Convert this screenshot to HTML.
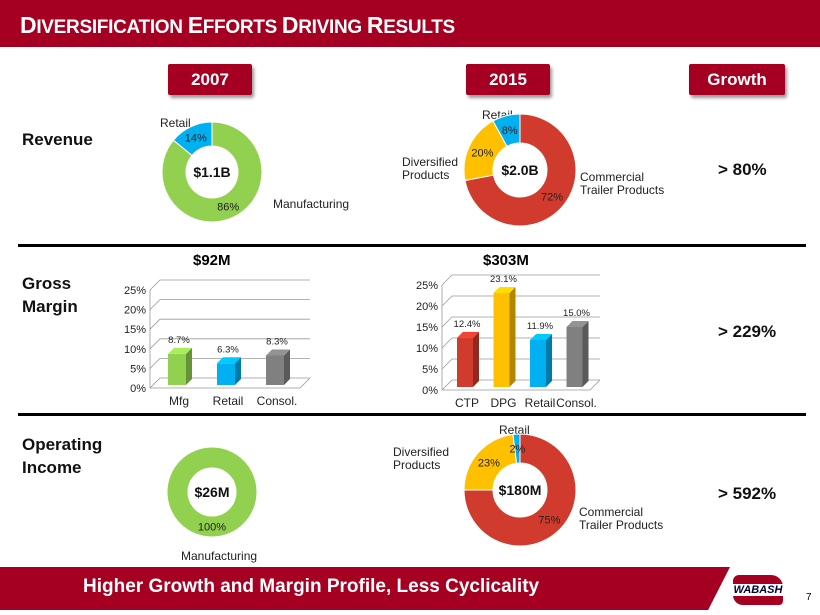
<!DOCTYPE html>
<html><head><meta charset="utf-8"><style>
body{margin:0;width:820px;height:615px;overflow:hidden;background:#fff;font-family:"Liberation Sans",sans-serif;position:relative}
.abs{position:absolute}
.btn{position:absolute;top:64px;height:31px;background:#a50021;color:#fff;font-weight:bold;font-size:17px;text-align:center;line-height:31px;box-shadow:2px 3px 3px #999;border-radius:2px}
.lbl{position:absolute;font-size:12px;color:#222;line-height:13px}
.row{position:absolute;left:22px;font-weight:bold;font-size:17px;line-height:23px;color:#111}
.gr{position:absolute;left:718px;font-weight:bold;font-size:17px;color:#111}
</style></head><body>
<div class="abs" style="left:0;top:0;width:820px;height:47px;background:#a50021"></div>
<div class="abs" style="left:20px;top:12px;color:#fff;font-weight:bold;font-size:19px;letter-spacing:-0.3px"><span style="font-size:23px">D</span>IVERSIFICATION <span style="font-size:23px">E</span>FFORTS <span style="font-size:23px">D</span>RIVING <span style="font-size:23px">R</span>ESULTS</div>
<div class="btn" style="left:168px;width:84px">2007</div>
<div class="btn" style="left:466px;width:84px">2015</div>
<div class="btn" style="left:689px;width:96px">Growth</div>
<div class="row" style="top:128px">Revenue</div>
<div class="row" style="top:272px">Gross<br>Margin</div>
<div class="row" style="top:433px">Operating<br>Income</div>
<div class="gr" style="top:160px">&gt; 80%</div>
<div class="gr" style="top:322px">&gt; 229%</div>
<div class="gr" style="top:484px">&gt; 592%</div>
<div class="abs" style="left:18px;top:244px;width:788px;height:3px;background:#000"></div>
<div class="abs" style="left:18px;top:413px;width:788px;height:3px;background:#000"></div>
<div class="abs" style="left:193px;top:252px;font-weight:bold;font-size:15px">$92M</div>
<div class="abs" style="left:483px;top:252px;font-weight:bold;font-size:15px">$303M</div>
<div class="lbl" style="left:160px;top:117px">Retail</div>
<div class="lbl" style="left:273px;top:198px">Manufacturing</div>
<div class="lbl" style="left:482px;top:109px">Retail</div>
<div class="lbl" style="left:402px;top:156px">Diversified<br>Products</div>
<div class="lbl" style="left:580px;top:171px">Commercial<br>Trailer Products</div>
<div class="lbl" style="left:181px;top:550px">Manufacturing</div>
<div class="lbl" style="left:499px;top:424px">Retail</div>
<div class="lbl" style="left:393px;top:446px">Diversified<br>Products</div>
<div class="lbl" style="left:579px;top:506px">Commercial<br>Trailer Products</div>
<svg class="abs" style="left:0;top:0" width="820" height="615" id="chart"></svg>
<div class="abs" style="left:0;top:567px;width:730px;height:43px;background:#a50021;clip-path:polygon(0 0,100% 0,97% 100%,0 100%)"></div>
<div class="abs" style="left:83px;top:576px;color:#fff;font-weight:bold;font-size:19px">Higher Growth and Margin Profile, Less Cyclicality</div>
<div class="abs" style="left:733px;top:575px;width:50px;height:30px;background:#a50021;border-radius:6px 12px 4px 10px"><div style="margin-top:9px;background:#fff;color:#003;font-weight:bold;font-style:italic;font-size:11px;text-align:center">WABASH</div></div>
<div class="abs" style="left:806px;top:592px;font-size:10px">7</div>
<script>
const NS='http://www.w3.org/2000/svg';
const svg=document.getElementById('chart');
function mk(t,a){const e=document.createElementNS(NS,t);for(const k in a)e.setAttribute(k,a[k]);svg.appendChild(e);return e;}
const rev07=[86,14], rev07Colors=['#92d050','#00b0f0'];
const rev15=[72,20,8], rev15Colors=['#d13b2e','#ffc000','#00b0f0'];
const oi07=[100], oi07Colors=['#92d050'];
const oi15=[75,23,2], oi15Colors=['#d13b2e','#ffc000','#00b0f0'];
const gm07Cats=['Mfg','Retail','Consol.'], gm07Vals=[8.7,6.3,8.3], gm07Colors=['#92d050','#00b0f0','#808080'];
const gm15Cats=['CTP','DPG','Retail','Consol.'], gm15Vals=[12.4,23.1,11.9,15.0], gm15Colors=['#d13b2e','#ffc000','#00b0f0','#808080'];
const yTicks=[0,5,10,15,20,25];
function donut(name,cx,cy,R,r,vals,cols,center){
  const tot=vals.reduce((a,b)=>a+b,0);
  let ang=-Math.PI/2;
  vals.forEach((v,i)=>{
    const sw=v/tot*2*Math.PI;const e=ang+sw;
    let p;
    if(sw>=2*Math.PI-1e-6){p=`M${cx-R},${cy}a${R},${R} 0 1,0 ${2*R},0a${R},${R} 0 1,0 ${-2*R},0M${cx-r},${cy}a${r},${r} 0 1,1 ${2*r},0a${r},${r} 0 1,1 ${-2*r},0`;}
    else{const lg=sw>Math.PI?1:0;const c=Math.cos,s=Math.sin;
    p=`M${cx+R*c(ang)},${cy+R*s(ang)}A${R},${R} 0 ${lg},1 ${cx+R*c(e)},${cy+R*s(e)}L${cx+r*c(e)},${cy+r*s(e)}A${r},${r} 0 ${lg},0 ${cx+r*c(ang)},${cy+r*s(ang)}Z`;}
    const el=mk('path',{d:p,fill:cols[i],stroke:'#fff','stroke-width':1,'fill-rule':'evenodd'});
    
    
    const m=(ang+e)/2, lr=(R+r)/2;
    const t=mk('text',{x:cx+lr*Math.cos(m),y:cy+lr*Math.sin(m)+4,'text-anchor':'middle','font-size':11,fill:'#222'});
    t.textContent=v+'%';
    
    
    ang=e;
  });
  const ct=mk('text',{x:cx,y:cy+5,'text-anchor':'middle','font-size':14,'font-weight':'bold',fill:'#111'});
  ct.textContent=center;
  
  
}
donut('rev07',212,172,50,26,rev07,rev07Colors,'$1.1B');
donut('rev15',520,170,56,27,rev15,rev15Colors,'$2.0B');
donut('oi07',212,492,45,24,oi07,oi07Colors,'$26M');
donut('oi15',520,490,56,27,oi15,oi15Colors,'$180M');
function bars(name,x0,x1,y0,yTop,cats,vals,cols,barX,bw){
  const sc=v=>y0-(v/25)*(y0-yTop);
  const dx=10,dy=10;
  yTicks.forEach(t=>{const y=sc(t);
    const g=mk('polyline',{points:`${x0},${y} ${x0+dx},${y-dy} ${x1+dx},${y-dy}`,fill:'none',stroke:'#999','stroke-width':0.8});
    
    
    const tl=mk('text',{x:x0-4,y:y+4,'text-anchor':'end','font-size':11,fill:'#222'});tl.textContent=t+'%';
    
    });
  mk('line',{x1:x0,y1:sc(0),x2:x0,y2:sc(25),stroke:'#999','stroke-width':0.8});
  mk('polyline',{points:`${x0},${y0} ${x1},${y0} ${x1+dx},${y0-dy}`,fill:'none',stroke:'#999','stroke-width':0.8});
  cats.forEach((c,i)=>{
    const x=barX(i),y=sc(vals[i]),d=6;
    const r=mk('rect',{x:x,y:y,width:bw,height:y0-3-y,fill:cols[i]});
    
    
    mk('polygon',{points:`${x+bw},${y} ${x+bw+d},${y-d} ${x+bw+d},${y0-3-d} ${x+bw},${y0-3}`,fill:cols[i],style:'filter:brightness(0.7)'});
    mk('polygon',{points:`${x},${y} ${x+d},${y-d} ${x+bw+d},${y-d} ${x+bw},${y}`,fill:cols[i],style:'filter:brightness(1.15)'});
    const vl=mk('text',{x:x+bw/2+2,y:y-11,'text-anchor':'middle','font-size':9.5,fill:'#222'});vl.textContent=vals[i].toFixed(1)+'%';
    
    
    const cl=mk('text',{x:x+bw/2+2,y:y0+17,'text-anchor':'middle','font-size':12,fill:'#222'});cl.textContent=c;
    
    
  });
}
bars('gm07',150,300,388,290,gm07Cats,gm07Vals,gm07Colors,i=>168+i*49,18);
bars('gm15',442,590,390,285,gm15Cats,gm15Vals,gm15Colors,i=>457+i*36.5,16);
</script>
</body></html>
